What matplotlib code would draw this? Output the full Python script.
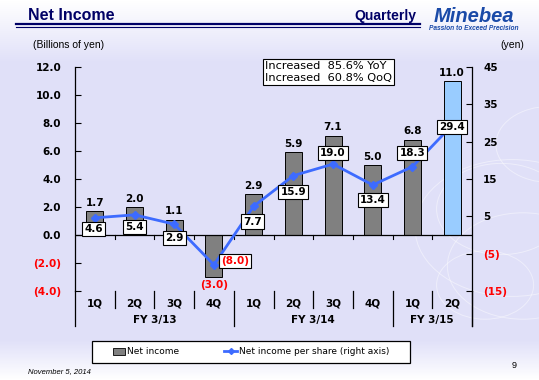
import matplotlib.pyplot as plt
import numpy as np
from matplotlib.lines import Line2D
from matplotlib.patches import Patch, Rectangle, Circle
import matplotlib.transforms as mtransforms

quarters = ["1Q", "2Q", "3Q", "4Q", "1Q", "2Q", "3Q", "4Q", "1Q", "2Q"]
fiscal_years = ["FY 3/13", "FY 3/14", "FY 3/15"]
fy_sizes = [4, 4, 2]
net_income = [1.7, 2.0, 1.1, -3.0, 2.9, 5.9, 7.1, 5.0, 6.8, 11.0]
eps = [4.6, 5.4, 2.9, -8.0, 7.7, 15.9, 19.0, 13.4, 18.3, 29.4]
left_ticks = [-4, -2, 0, 2, 4, 6, 8, 10, 12]
right_ticks = [-15, -5, 5, 15, 25, 35, 45]

NAVY = "#000066"
BLUE = "#3d6bff"
RED = "#ff0000"

plt.rcParams["font.family"] = ["DejaVu Sans"]

fig = plt.figure(figsize=(5.39, 3.80), dpi=100)

# background gradient
bg = fig.add_axes([0, 0, 1, 1], zorder=-10)
bg.axis("off")
lav = np.array([0.882, 0.882, 0.976])
white = np.array([1.0, 1.0, 1.0])
ys = np.linspace(0, 1, 200)
cols = []
for t in ys:
    if t < 0.16:
        w = 1 - t / 0.16
    elif t > 0.9:
        w = (t - 0.9) / 0.1
    else:
        w = 0
    cols.append(white * w + lav * (1 - w))
grad = np.array(cols)[:, None, :]
bg.imshow(grad, aspect="auto", extent=[0, 1, 0, 1], origin="upper")
bg.set_xlim(0, 1)
bg.set_ylim(0, 1)
# faint decorative rings
for cx, cy, r in [(0.93, 0.45, 0.12), (0.97, 0.30, 0.14), (1.02, 0.62, 0.10),
                  (0.90, 0.25, 0.09), (0.95, 0.40, 0.18)]:
    bg.add_patch(Circle((cx, cy), r, transform=bg.transAxes, fill=False,
                        ec="white", lw=0.7, alpha=0.45))

# header
fig.text(28 / 539, 1 - 16 / 380, "Net Income", fontsize=11.5, fontweight="bold",
         color=NAVY, family="Liberation Sans", va="center")
fig.text(416 / 539, 1 - 16 / 380, "Quarterly", fontsize=10, fontweight="bold",
         color=NAVY, family="Liberation Sans", va="center", ha="right")
fig.add_artist(Line2D([16 / 539, 420 / 539], [1 - 24 / 380] * 2, color=NAVY, lw=1.6))
fig.add_artist(Line2D([16 / 539, 420 / 539], [1 - 27 / 380] * 2, color=NAVY, lw=0.8))
fig.text(474 / 539, 1 - 16 / 380, "Minebea", fontsize=14.5, fontweight="bold", style="italic",
         color="#1a4aa8", family="Liberation Sans", va="center", ha="center")
fig.text(474 / 539, 1 - 28 / 380, "Passion to Exceed Precision", fontsize=4.8, fontweight="bold",
         style="italic", color="#1a4aa8", family="Liberation Sans", va="center", ha="center")
fig.text(33 / 539, 1 - 45 / 380, "(Billions of yen)", fontsize=7.5, family="Liberation Sans",
         va="center")
fig.text(524 / 539, 1 - 45 / 380, "(yen)", fontsize=7.5, family="Liberation Sans",
         va="center", ha="right")
fig.text(28 / 539, 1 - 372 / 380, "November 5, 2014", fontsize=5.5, style="italic",
         family="Liberation Sans", va="center")
fig.text(512 / 539, 1 - 366 / 380, "9", fontsize=6.5, family="Liberation Sans", va="center")

# main axes
ax = fig.add_axes([75 / 539, 1 - 291 / 380, 397 / 539, 224 / 380])
ax.patch.set_alpha(0)
x = np.arange(len(quarters))
colors = ["#808080"] * (len(x) - 1) + ["#99ccff"]
ax.bar(x, net_income, width=0.43, color=colors, edgecolor="black", lw=0.7, zorder=2)
ax.set_xlim(-0.5, len(x) - 0.5)
ax.set_ylim(-4, 12)
ax.set_yticks(left_ticks)
ax.set_yticklabels([f"{v:.1f}" if v >= 0 else f"({-v:.1f})" for v in left_ticks])
for lab, v in zip(ax.get_yticklabels(), left_ticks):
    lab.set_color(RED if v < 0 else "black")
    lab.set_fontweight("bold")
ax.tick_params(axis="y", direction="in", length=4, labelsize=7.5, pad=10, width=0.8)
ax.set_xticks([])
for s in ["top", "bottom", "right"]:
    ax.spines[s].set_visible(False)
ax.spines["left"].set_linewidth(0.9)
ax.axhline(0, color="black", lw=0.9, zorder=3)

trans = mtransforms.blended_transform_factory(ax.transData, ax.transAxes)
# small ticks below zero line at category boundaries
zero_frac = 4 / 16
for b in np.arange(0.5, len(x) - 0.5, 1):
    ax.plot([b, b], [zero_frac, zero_frac - 0.018], transform=trans, color="black", lw=0.8, clip_on=False)

# category table below
edges = np.cumsum([0] + fy_sizes) - 0.5
for b in np.arange(0.5, len(x) - 0.5, 1):
    if b not in edges:
        ax.plot([b, b], [0, -0.078], transform=trans, color="black", lw=0.9, clip_on=False)
for e in edges:
    ax.plot([e, e], [0, -0.157], transform=trans, color="black", lw=0.9, clip_on=False)
for xi, q in zip(x, quarters):
    ax.text(xi, -0.054, q, transform=trans, ha="center", va="center", fontsize=7.5,
            fontweight="bold")
for i, fy in enumerate(fiscal_years):
    ax.text((edges[i] + edges[i + 1]) / 2, -0.128, fy, transform=trans, ha="center",
            va="center", fontsize=7.5, fontweight="bold")

# bar labels
for xi, v in zip(x, net_income):
    if v >= 0:
        ax.text(xi, v + 0.25, f"{v:.1f}", ha="center", va="bottom", fontsize=7.5,
                fontweight="bold", zorder=5)
    else:
        ax.text(xi, v - 0.25, f"({-v:.1f})", ha="center", va="top", fontsize=7.5,
                fontweight="bold", color=RED, zorder=5)

# EPS on right axis
ax2 = ax.twinx()
ax2.set_ylim(-15, 45)
ax2.plot(x, eps, color=BLUE, lw=2, marker="D", ms=4, zorder=4)
ax2.set_yticks(right_ticks)
ax2.set_yticklabels([str(v) if v > 0 else f"({-v})" for v in right_ticks])
for lab, v in zip(ax2.get_yticklabels(), right_ticks):
    lab.set_color(RED if v < 0 else "black")
    lab.set_fontweight("bold")
ax2.tick_params(axis="y", direction="in", length=4, labelsize=7.5, pad=8, width=0.8)
for s in ["top", "bottom", "left"]:
    ax2.spines[s].set_visible(False)
ax2.spines["right"].set_linewidth(0.9)
ax.plot([len(x) - 0.5] * 2, [0, -0.157], transform=trans, color="black", lw=0.9, clip_on=False)

# EPS label offsets in points (dx, dy)
offsets = [(-1, -8), (0, -9), (0, -10), (15, 3), (-1, -11), (0, -12), (0, 8), (0, -11), (0, 10), (0, -1)]
for xi, v, (dx, dy) in zip(x, eps, offsets):
    txt = f"{v:.1f}" if v >= 0 else f"({-v:.1f})"
    ax2.annotate(txt, (xi, v), xytext=(dx, dy), textcoords="offset points", ha="center",
                 va="center", fontsize=7.5, fontweight="bold", color=RED if v < 0 else "black",
                 bbox=dict(boxstyle="square,pad=0.2", fc="white", ec="black", lw=0.8), zorder=6)

# YoY / QoQ box
fig.text(265 / 539, 1 - 72 / 380, "Increased  85.6% YoY\nIncreased  60.8% QoQ", fontsize=8.2,
         family="DejaVu Sans", va="center", ha="left", linespacing=1.3,
         bbox=dict(boxstyle="square,pad=0.15", fc="white", ec="black", lw=0.8))

# legend
fig.add_artist(Rectangle((92 / 539, 1 - 363 / 380), 318 / 539, 22 / 380, transform=fig.transFigure,
                         fc="white", ec="black", lw=0.9))
handles = [Patch(fc="#808080", ec="black", lw=0.6),
           Line2D([], [], color=BLUE, lw=2, marker="D", ms=3)]
fig.legend(handles, ["Net income", "Net income per share (right axis)"], loc="center",
           bbox_to_anchor=(251 / 539, 1 - 352 / 380), ncol=2, frameon=False,
           handlelength=1.4, handletextpad=0.2, columnspacing=5,
           prop={"family": "DejaVu Sans", "size": 6.5})

fig.savefig("out.png", dpi=100)
